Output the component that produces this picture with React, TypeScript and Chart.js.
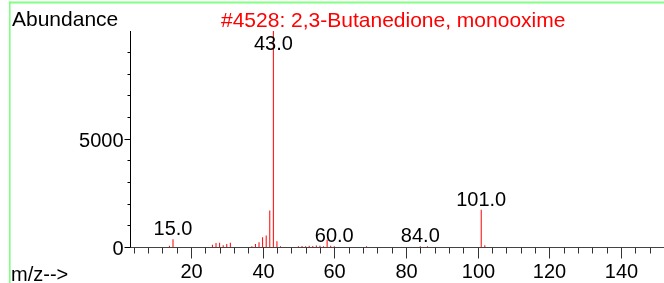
import { useEffect, useRef } from "react";
import { Chart, registerables } from "chart.js";

Chart.register(...registerables);

const TITLE = "#4528: 2,3-Butanedione, monooxime";
const Y_TITLE = "Abundance";
const X_TITLE = "m/z-->";

const MZ = [14, 15, 26, 27, 28, 29, 30, 31, 37, 38, 39, 40, 41, 42, 43, 44, 45, 50, 51, 52, 53, 54, 55, 56, 57, 58, 59, 60, 69, 84, 86, 101, 102];
const ABUNDANCE = [60, 360, 100, 185, 200, 80, 140, 200, 30, 140, 215, 450, 525, 1690, 9968, 265, 30, 40, 50, 40, 60, 50, 70, 60, 40, 340, 60, 40, 40, 40, 40, 1720, 80];
const LABELED_MZ = [15, 43, 60, 84, 101];

const X_MIN = 3;
const X_MAX = 152;
const X_MINOR_STEP = 4;
const X_MAJOR_STEP = 20;
const Y_MINOR_STEP = 1000;
const Y_LABEL_STEP = 5000;

const FONT = '"Liberation Sans", Arial, sans-serif';

const overlayPlugin = {
  id: "msOverlay",
  afterDatasetsDraw(chart: any) {
    const ctx = chart.ctx as CanvasRenderingContext2D;
    const { left, top, right, bottom } = chart.chartArea;
    const xs = chart.scales.x;
    const ys = chart.scales.y;
    ctx.save();

    // green frame
    ctx.fillStyle = "#80ff80";
    ctx.fillRect(9, 1.5, 655, 2);
    ctx.fillRect(9, 1.5, 1.6, 282);

    // y axis
    ctx.lineWidth = 1;
    ctx.strokeStyle = "#000";
    const ax = Math.round(left) + 0.5;
    ctx.beginPath();
    ctx.moveTo(ax, top);
    ctx.lineTo(ax, bottom + 1);
    ctx.stroke();

    // x axis
    const ay = Math.round(bottom) + 0.5;
    ctx.strokeStyle = "#444";
    ctx.beginPath();
    ctx.moveTo(left, ay);
    ctx.lineTo(right, ay);
    ctx.stroke();

    // y ticks
    ctx.strokeStyle = "#000";
    ctx.fillStyle = "#000";
    ctx.font = `20px ${FONT}`;
    ctx.textAlign = "right";
    ctx.textBaseline = "alphabetic";
    for (let v = 0; v <= ys.max; v += Y_MINOR_STEP) {
      const y = Math.round(ys.getPixelForValue(v)) + 0.5;
      const major = v % Y_LABEL_STEP === 0;
      const len = major ? 6 : 3;
      ctx.beginPath();
      ctx.moveTo(ax - len, y);
      ctx.lineTo(ax, y);
      ctx.stroke();
      if (major) ctx.fillText(String(v), ax - 7, y + 7.3);
    }

    // x ticks
    ctx.strokeStyle = "#333";
    ctx.textAlign = "center";
    const firstX = Math.ceil(X_MIN / X_MINOR_STEP) * X_MINOR_STEP;
    for (let v = firstX; v <= X_MAX; v += X_MINOR_STEP) {
      const x = Math.round(xs.getPixelForValue(v)) + 0.5;
      const major = v % X_MAJOR_STEP === 0;
      const len = major ? 11 : 6;
      ctx.beginPath();
      ctx.moveTo(x, ay);
      ctx.lineTo(x, ay + len);
      ctx.stroke();
      if (major) ctx.fillText(String(v), x, bottom + 31);
    }

    // peak labels
    ctx.fillStyle = "#000";
    ctx.textAlign = "center";
    LABELED_MZ.forEach((mz) => {
      const i = MZ.indexOf(mz);
      const ab = i >= 0 ? ABUNDANCE[i] : 0;
      const px = xs.getPixelForValue(mz);
      const py = ys.getPixelForValue(ab);
      const base = Math.max(py - 4, top + 19);
      ctx.fillText(mz.toFixed(1), px, base);
    });

    // titles
    ctx.textAlign = "left";
    ctx.font = `21px ${FONT}`;
    ctx.fillStyle = "#000";
    ctx.fillText(Y_TITLE, 12, 25.7);
    ctx.fillStyle = "#ff0000";
    ctx.fillText(TITLE, 221, 26.5);
    ctx.fillStyle = "#000";
    ctx.font = `20px ${FONT}`;
    ctx.fillText(X_TITLE, 11, 281);

    ctx.restore();
  },
};

export default function App() {
  const ref = useRef<HTMLCanvasElement | null>(null);
  useEffect(() => {
    if (!ref.current) return;
    const data = MZ.map((m, i) => ({ x: m, y: ABUNDANCE[i] }));
    const chart = new Chart(ref.current, {
      type: "bar",
      data: {
        datasets: [
          {
            data: data as any,
            backgroundColor: "#ff0000",
            borderWidth: 0,
            barThickness: 1,
            inflateAmount: 0,
          } as any,
        ],
      },
      options: {
        responsive: false,
        animation: false,
        devicePixelRatio: 1,
        layout: { padding: { left: 130, top: 31, right: 0, bottom: 36 } },
        plugins: { legend: { display: false }, tooltip: { enabled: false } },
        scales: {
          x: { type: "linear", min: X_MIN, max: X_MAX, offset: false, display: false, grid: { offset: false } },
          y: { type: "linear", min: 0, max: Math.max(...ABUNDANCE), display: false },
        },
      },
      plugins: [overlayPlugin],
    });
    return () => chart.destroy();
  }, []);
  return (
    <div style={{ position: "fixed", left: 0, top: 0, width: 664, height: 283, background: "#fff" }}>
      <canvas ref={ref} width={664} height={283} style={{ width: 664, height: 283, display: "block" }} />
    </div>
  );
}
